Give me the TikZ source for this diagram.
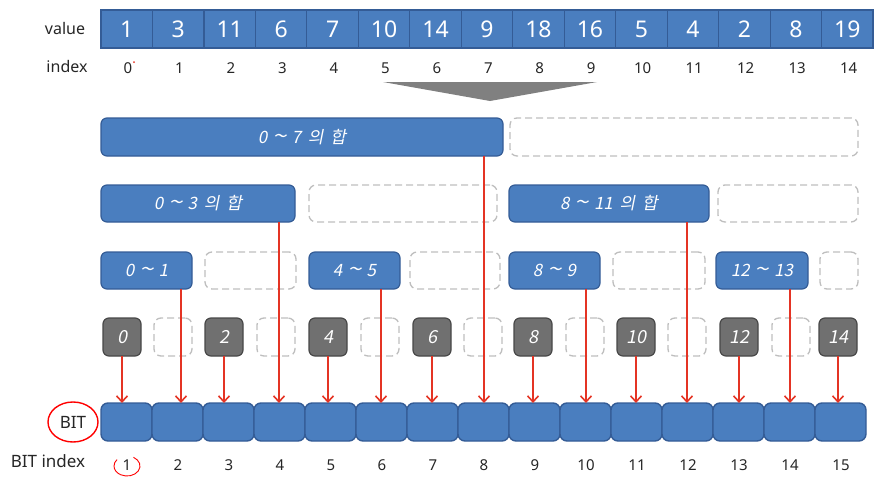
\documentclass[tikz,border=0pt]{standalone}
\usepackage{fontspec}
\setmainfont{Noto Sans}
\newfontfamily\kr[FakeSlant=0.2]{Noto Sans CJK KR}
\usetikzlibrary{arrows.meta,calc,shapes.geometric}
\definecolor{bfill}{RGB}{74,126,191}
\definecolor{bline}{RGB}{52,92,150}
\definecolor{gfill}{RGB}{112,112,112}
\definecolor{gline}{RGB}{72,72,72}
\definecolor{dline}{RGB}{190,190,190}
\definecolor{arrred}{RGB}{228,52,36}
\definecolor{chev}{RGB}{128,128,128}
\newcommand\tld{\hspace{0.3em}\scalebox{1.5}[1.2]{\textasciitilde}\hspace{0.3em}}
\newcommand\wsp{\hspace{0.4em}}
\begin{document}
\begin{tikzpicture}[x=1pt,y=-1pt,
  valcell/.style={draw=bline,fill=bfill,line width=1.2pt,inner sep=0pt,outer sep=0pt,
    minimum width=51.47pt,minimum height=38pt,anchor=north west,text=white,
    font=\fontsize{23}{25}\selectfont},
  idx/.style={font=\fontsize{15}{17}\selectfont,text=black!85},
  lab/.style={font=\fontsize{16}{18}\selectfont,text=black!85},
  bluebox/.style={draw=bline,fill=bfill,line width=1.2pt,rounded corners=6pt,inner sep=0pt,outer sep=0pt,
    anchor=north west,text=white,font=\kr\fontsize{17}{19}\selectfont},
  dbox/.style={draw=dline,dashed,dash pattern=on 7pt off 4pt,line width=1.3pt,rounded corners=7pt,inner sep=0pt,outer sep=0pt,
    anchor=north west},
  graybox/.style={draw=gline,fill=gfill,line width=1.2pt,rounded corners=6pt,inner sep=0pt,outer sep=0pt,
    anchor=north west,minimum width=38pt,minimum height=38pt,text=white,font=\kr\fontsize{18}{20}\selectfont},
  bitcell/.style={draw=bline,fill=bfill,line width=1.4pt,rounded corners=7pt,inner sep=0pt,outer sep=0pt,
    anchor=north west,minimum width=51pt,minimum height=38pt},
  arr/.style={draw=arrred,line width=1.6pt,-{Straight Barb[length=6pt,width=11pt,line width=1.6pt]}}
]
\useasboundingbox (0,0) rectangle (895,490);

% value row
\foreach \v [count=\i from 0] in {1,3,11,6,7,10,14,9,18,16,5,4,2,8,19}{
  \node[valcell] (v\i) at ({101+51.47*\i},10) {\v};
  \node[idx] (ix\i) at ({128+51.47*\i},68) {\i};
}
\node[lab] (valuelab) at (65,28) {value};
\node[lab] (indexlab) at (67,66) {index};
\fill[arrred] (134,62) circle (1pt);

% chevron
\fill[chev] (383,82) -- (597,82) -- (490,101) -- cycle;

% level 1
\node[bluebox,minimum width=402pt,minimum height=38pt] (l1a) at (101,118) {0\tld 7\wsp 의\wsp 합};
\node[dbox,minimum width=348pt,minimum height=38pt] (l1b) at (510,118) {};
% level 2
\node[bluebox,minimum width=194pt,minimum height=37pt] (l2a) at (101,185) {0\tld 3\wsp 의\wsp 합};
\node[dbox,minimum width=188pt,minimum height=37pt] (l2b) at (309,185) {};
\node[bluebox,minimum width=200pt,minimum height=37pt] (l2c) at (509,185) {8\tld 11\wsp 의\wsp 합};
\node[dbox,minimum width=140pt,minimum height=37pt] (l2d) at (718,185) {};
% level 3
\node[bluebox,minimum width=91pt,minimum height=37pt] (l3a) at (101,252) {0\tld 1};
\node[dbox,minimum width=91pt,minimum height=37pt] (l3b) at (205,252) {};
\node[bluebox,minimum width=91pt,minimum height=37pt] (l3c) at (309,252) {4\tld 5};
\node[dbox,minimum width=90pt,minimum height=37pt] (l3d) at (410,252) {};
\node[bluebox,minimum width=91pt,minimum height=37pt] (l3e) at (509,252) {8\tld 9};
\node[dbox,minimum width=92pt,minimum height=37pt] (l3f) at (613,252) {};
\node[bluebox,minimum width=92pt,minimum height=37pt] (l3g) at (716,252) {12\tld 13};
\node[dbox,minimum width=38pt,minimum height=37pt] (l3h) at (820,252) {};
% level 4
\foreach \x/\t in {103/0,205/2,309/4,413/6,514/8,617/10,720/12,819/14}{
  \node[graybox] (g\t) at (\x,318) {\t};
}
\foreach \x [count=\k] in {154,257,361,464,566,668,772}{
  \node[dbox,minimum width=38pt,minimum height=38pt] (gd\k) at (\x,318) {};
}

% BIT row
\foreach \i in {1,...,15}{
  \node[bitcell] (b\i) at ({101+51*(\i-1)},403) {};
  \node[idx] (bi\i) at ({127+51*(\i-1)},465) {\i};
}
\node[lab,ellipse,draw=red,line width=1.4pt,minimum width=50pt,minimum height=40pt,inner sep=0pt,font=\fontsize{17}{19}\selectfont] (bitlab) at (73,422) {BIT};
\node[lab,font=\fontsize{17}{19}\selectfont] (bitidx) at (48,461) {BIT index};
\draw[red,line width=0.9pt] ([shift={(0,1)}]bi1.center) ++(-60:13 and 10) arc[start angle=-60,end angle=220,x radius=13,y radius=10];

% source points of the long connectors (on integer pixel columns)
\coordinate (s2) at ([xshift=3.5pt]b2.north |- l3a.south);
\coordinate (s4) at ([xshift=-0.5pt]b4.north |- l2a.south);
\coordinate (s6) at ([xshift=-0.5pt]b6.north |- l3c.south);
\coordinate (s8) at ([xshift=0.5pt]b8.north |- l1a.south);
\coordinate (s10) at ([xshift=0.5pt]b10.north |- l3e.south);
\coordinate (s12) at ([xshift=-0.5pt]b12.north |- l2c.south);
\coordinate (s14) at ([xshift=0.5pt]b14.north |- l3g.south);

% arrows
\foreach \s/\e in {g0.south/1,s2/2,g2.south/3,s4/4,g4.south/5,s6/6,g6.south/7,s8/8,
                   g8.south/9,s10/10,g10.south/11,s12/12,g12.south/13,s14/14,g14.south/15}{
  \draw[arr] (\s) -- (\s |- b\e.north);
}
\end{tikzpicture}
\end{document}
